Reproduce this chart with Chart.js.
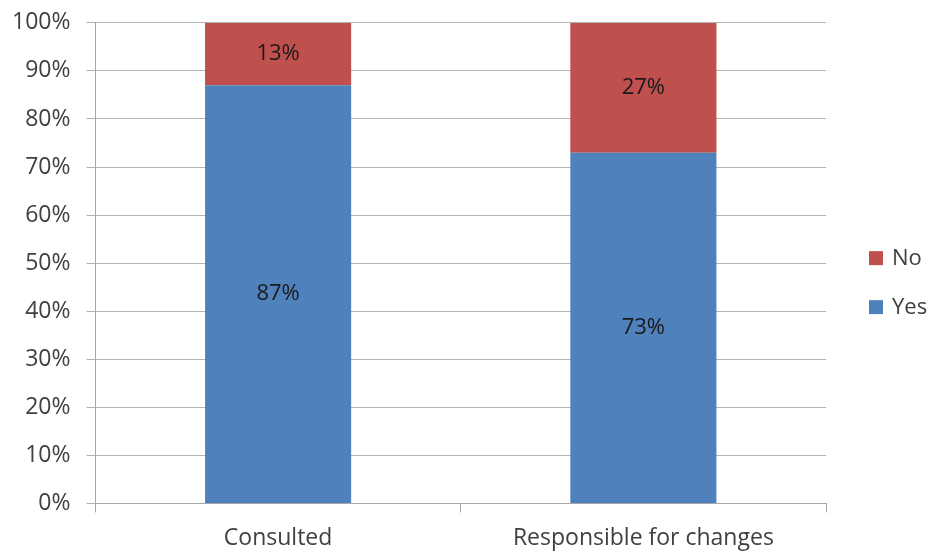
<!DOCTYPE html>
<html>
<head>
<meta charset="utf-8">
<script src="https://cdn.jsdelivr.net/npm/chart.js@4/dist/chart.umd.min.js"></script>
<style>
	html, body { margin: 0; padding: 0; background: #fff; }
	#wrap { width: 931px; height: 552px; }
</style>
</head>
<body>
<div id="wrap"><canvas id="survey"></canvas></div>
<script>
const categories = ["Consulted", "Responsible for changes"];
const yesValues = [87, 73];
const noValues = [13, 27];

const textColor = "#404040";
const fontFamily = "'Open Sans', 'Liberation Sans', sans-serif";
const font = { family: fontFamily, size: 23 };

// draw the percentage in the middle of each segment
const barLabels = {
	id: "barLabels",
	afterDatasetsDraw(chart) {
		const ctx = chart.ctx;
		ctx.save();
		ctx.font = "22px " + fontFamily;
		ctx.fillStyle = "#1a1a1a";
		ctx.textAlign = "center";
		ctx.textBaseline = "middle";
		chart.data.datasets.forEach((ds, i) => {
			chart.getDatasetMeta(i).data.forEach((bar, j) => {
				const p = bar.getCenterPoint();
				ctx.fillText(ds.data[j] + "%", p.x, p.y);
			});
		});
		ctx.restore();
	}
};

// legend on the right, No above Yes, like the original
const sideLegend = {
	id: "sideLegend",
	afterDraw(chart) {
		const ctx = chart.ctx;
		const area = chart.chartArea;
		const x = area.right + 43;
		const midY = (area.top + area.bottom) / 2;
		const items = chart.data.datasets.slice().reverse();
		ctx.save();
		ctx.font = "22px " + fontFamily;
		ctx.textBaseline = "middle";
		items.forEach((ds, i) => {
			const y = midY - 5 + i * 49;
			ctx.fillStyle = ds.backgroundColor;
			ctx.fillRect(x, y - 7, 14, 14);
			ctx.fillStyle = textColor;
			ctx.fillText(ds.label, x + 23, y + 1);
		});
		ctx.restore();
	}
};

new Chart(document.getElementById("survey"), {
	type: "bar",
	data: {
		labels: categories,
		datasets: [
			{ label: "Yes", data: yesValues, backgroundColor: "#4f81bd", barPercentage: 0.4, categoryPercentage: 1 },
			{ label: "No", data: noValues, backgroundColor: "#c0504d", barPercentage: 0.4, categoryPercentage: 1 }
		]
	},
	options: {
		responsive: true,
		maintainAspectRatio: false,
		animation: false,
		layout: { padding: { top: 0, right: 105, bottom: -12, left: -4 } },
		scales: {
			x: {
				stacked: true,
				grid: { drawOnChartArea: false, offset: true, tickLength: 9, color: "#a6a6a6" },
				border: { color: "#a6a6a6" },
				ticks: { color: textColor, font: font, padding: 12 }
			},
			y: {
				stacked: true,
				min: 0,
				max: 100,
				grid: { color: "#b3b3b3", tickLength: 9 },
				border: { color: "#a6a6a6" },
				ticks: { stepSize: 10, color: textColor, font: { family: fontFamily, size: 23, lineHeight: 0.6 }, padding: 16, callback: v => v + "%" }
			}
		},
		plugins: {
			legend: { display: false },
			tooltip: { enabled: false }
		}
	},
	plugins: [barLabels, sideLegend]
});
</script>
</body>
</html>
